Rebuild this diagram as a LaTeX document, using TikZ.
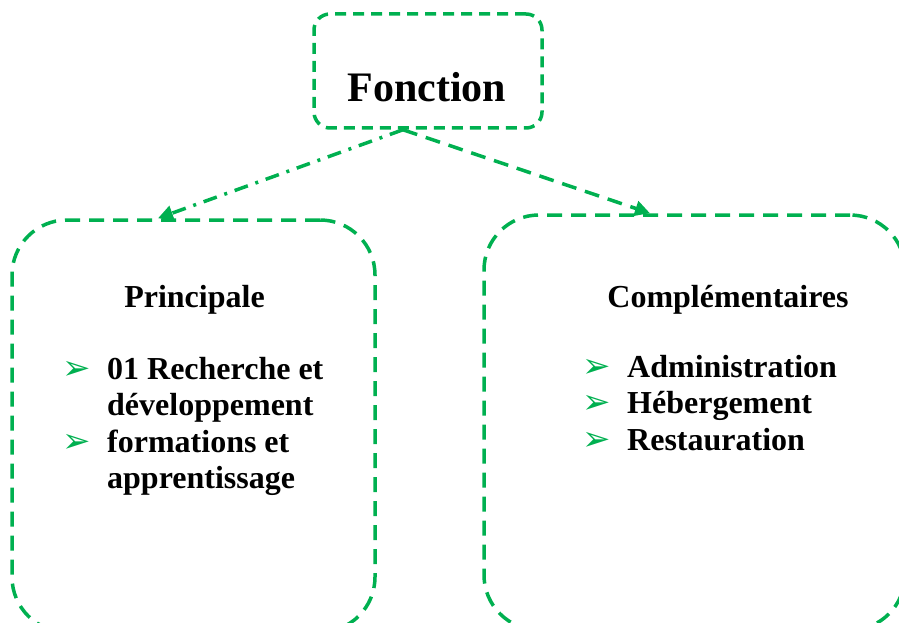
\documentclass[tikz,border=0pt]{standalone}
\usepackage{fontspec}
\setmainfont{Liberation Serif}
\newfontfamily\dejavu{DejaVu Sans}
\usetikzlibrary{positioning,arrows.meta}
\definecolor{cadreVert}{HTML}{00B050}
\newcommand{\puce}{\makebox[45pt][l]{\dejavu\fontsize{34}{34}\selectfont\color{cadreVert}➢}}

\begin{document}
\begin{tikzpicture}[x=1pt, y=-1pt,
    cadre/.style={
        rectangle, draw=cadreVert,
        line width=3.5pt, dash pattern=on 15pt off 9pt,
        rounded corners=55pt
    },
    titre/.style={font=\bfseries\fontsize{42}{48}\selectfont, inner sep=0pt},
    texte/.style={font=\bfseries\fontsize{32}{36.5}\selectfont, inner sep=0pt},
    fleche/.style={-{Triangle[length=15pt, width=15pt]}, draw=cadreVert, line width=3.5pt}
]
  \clip (0,0) rectangle (899,623);

  % Cadres
  \node[cadre, rounded corners=16pt, dash pattern=on 11pt off 7pt,
        minimum width=228pt, minimum height=114pt] (fonction) at (428,71) {};

  \node[cadre, minimum width=363pt, minimum height=412pt] (principale) at (193.5,426) {};

  \node[cadre, minimum width=421pt, minimum height=415pt] (complement) at (694.5,422.5) {};

  % Textes
  \node[titre, anchor=base] (titreFonction) at ([xshift=-1pt, yshift=-31pt]fonction.center) {Fonction};

  \node[texte, anchor=base] (titrePrincipale) at (194.5,307) {Principale};

  \node[texte, anchor=base] (titreComplement) at (728,307) {Complémentaires};

  \node[texte, anchor=base west] (listePrincipale) at (62,379) {%
    \begin{tabular}[t]{@{}l@{}l@{}}
      \puce & 01 Recherche et\\
            & développement\\
      \puce & formations et\\
            & apprentissage
    \end{tabular}};

  \node[texte, anchor=base west] (listeComplement) at (582,377) {%
    \begin{tabular}[t]{@{}l@{}l@{}}
      \puce & Administration\\
      \puce & Hébergement\\
      \puce & Restauration
    \end{tabular}};

  % Fleches
  \coordinate (depart) at ([xshift=-25pt]fonction.south);
  \coordinate (arriveeG) at ([xshift=-35.5pt]principale.north);
  \coordinate (arriveeD) at ([xshift=-44.5pt]complement.north);

  \draw[fleche, dash pattern=on 14pt off 8pt on 3pt off 8pt] (depart) -- (arriveeG);
  \draw[fleche, dash pattern=on 15pt off 9pt] (depart) -- (arriveeD);

\end{tikzpicture}
\end{document}
